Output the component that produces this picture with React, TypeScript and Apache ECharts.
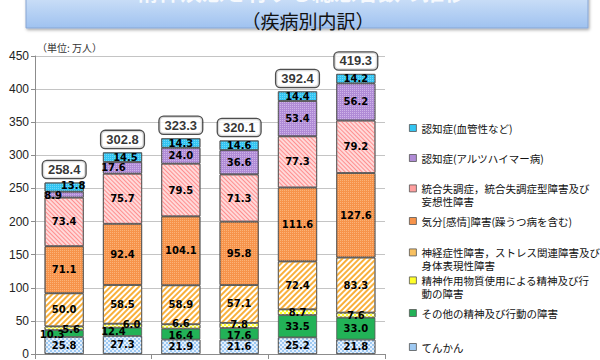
import React, { useEffect, useRef } from "react";
import * as echarts from "echarts";

// ---- data ----
const categories = ["平成11年", "平成14年", "平成17年", "平成20年", "平成23年", "平成26年"];
const totals = [258.4, 302.8, 323.3, 320.1, 392.4, 419.3];
const epilepsy = [25.8, 27.3, 21.9, 21.6, 25.2, 21.8];
const otherDisorders = [10.3, 12.4, 16.4, 17.6, 33.5, 33.0];
const substance = [5.6, 6.0, 6.6, 7.8, 8.7, 7.6];
const neurotic = [50.0, 58.5, 58.9, 57.1, 72.4, 83.3];
const mood = [71.1, 92.4, 104.1, 95.8, 111.6, 127.6];
const schizophrenia = [73.4, 75.7, 79.5, 71.3, 77.3, 79.2];
const alzheimer = [8.9, 17.6, 24.0, 36.6, 53.4, 56.2];
const vascular = [13.8, 14.5, 14.3, 14.6, 14.4, 14.2];

const seriesNames = [
  "てんかん",
  "その他の精神及び行動の障害",
  "精神作用物質使用による精神及び行動の障害",
  "神経症性障害，ストレス関連障害及び身体表現性障害",
  "気分[感情]障害(躁うつ病を含む)",
  "統合失調症，統合失調症型障害及び妄想性障害",
  "認知症(アルツハイマー病)",
  "認知症(血管性など)",
];
const legendTexts = [
  "てんかん",
  "その他の精神及び行動の障害",
  "精神作用物質使用による精神及び行\n動の障害",
  "神経症性障害，ストレス関連障害及び\n身体表現性障害",
  "気分[感情]障害(躁うつ病を含む)",
  "統合失調症，統合失調症型障害及び\n妄想性障害",
  "認知症(アルツハイマー病)",
  "認知症(血管性など)",
];
const seriesValues = [epilepsy, otherDisorders, substance, neurotic, mood, schizophrenia, alzheimer, vascular];

const yMin = 0;
const yMax = 450;
const yInterval = 50;
const unitLabel = "（単位: 万人）";
const titleText = "精神疾患を有する総患者数の推移";
const subtitleText = "（疾病別内訳）";

// ---- styles ----
const dots = (c: string) => ({ color: c, symbol: "rect", symbolSize: 1, dashArrayX: [1, 1], dashArrayY: [1, 1] });
const checker = (c: string) => ({ color: c, symbol: "rect", symbolSize: 1, dashArrayX: [[2, 2], [0, 2, 2, 0]], dashArrayY: [2, 0] });
const seriesStyles: any[] = [
  { color: "#9ec9f2", decal: checker("rgba(255,255,255,0.75)") },
  { color: "#22b257" },
  { color: "#ffff2a", decal: checker("rgba(255,255,255,0.8)") },
  { color: "#ffffff", decal: { color: "#f8b03c", symbol: "rect", symbolSize: 1, dashArrayX: [1, 0], dashArrayY: [2, 2], rotation: -Math.PI / 4 } },
  { color: "#f7934a", decal: dots("rgba(255,205,160,0.55)") },
  { color: "#ffd9d9", decal: { color: "#ff8f8f", symbol: "rect", symbolSize: 1, dashArrayX: [1, 0], dashArrayY: [1, 1.2], rotation: Math.PI / 4 } },
  { color: "#b08bd6", decal: dots("rgba(230,215,245,0.55)") },
  { color: "#33c5f2", decal: dots("rgba(170,235,255,0.5)") },
];
const legendSolid = ["#9ec9f2", "#22b257", "#ffff2a", "#f8c060", "#f7934a", "#ff9f9f", "#b08bd6", "#33c5f2"];
// first-line centre y of each legend entry (bottom-to-top series order)
const legendCenters = [347, 313, 280, 252, 221, 188, 158, 128];
const legendLineHeight = 13.5;
const labelOffsets: Record<number, Record<number, number[]>> = {
  1: { 0: [-12, 1], 1: [-9, 0], 2: [0, 1.5], 3: [0, 1.5] },
  2: { 0: [7, 1.5], 1: [9, -1.5], 2: [0, -2.5], 3: [0, -0.5] },
  6: { 0: [-11, 1], 1: [-9, 0] },
  7: { 0: [9, -1.5], 1: [3, 0] },
};

export default function App() {
  const ref = useRef<HTMLDivElement>(null);
  useEffect(() => {
    if (!ref.current) return;
    const chart = echarts.init(ref.current, undefined, { renderer: "svg" });
    const sums = categories.map((_, i) => seriesValues.reduce((a, s) => a + s[i], 0));

    const barSeries = seriesValues.map((vals, si) => ({
      name: seriesNames[si],
      type: "bar",
      stack: "total",
      barCategoryGap: "33%",
      itemStyle: { ...seriesStyles[si], borderColor: "#555", borderWidth: 0.8 },
      label: {
        show: true,
        position: "inside",
        color: "#000",
        fontWeight: "bold",
        fontSize: 10,
        fontFamily: "DejaVu Sans",
        formatter: (p: any) => Number(p.value).toFixed(1),
      },
      data: vals.map((v, i) => {
        const off = labelOffsets[si] && labelOffsets[si][i];
        return off ? { value: v, label: { offset: off } } : v;
      }),
    }));

    const legends = seriesNames.map((name, si) => {
      const lines = legendTexts[si].split("\n").length;
      const c = legendCenters[si];
      const blockH = lines * legendLineHeight;
      const iconH = lines > 1 ? blockH : 7;
      const y0 = legendLineHeight / 2 - 3.5;
      const icon =
        lines > 1
          ? `path://M0,0 M0,${blockH} M0,${y0} L7,${y0} L7,${y0 + 7} L0,${y0 + 7} Z`
          : "rect";
      return {
        data: [{ name, itemStyle: { color: legendSolid[si], decal: "none" } }],
        left: 409,
        top: c - legendLineHeight / 2,
        padding: 0,
        icon,
        itemWidth: 7,
        itemHeight: iconH,
        itemStyle: { borderColor: "#555", borderWidth: 0.8 },
        selectedMode: false,
        formatter: () => legendTexts[si],
        textStyle: {
          fontSize: 10.5,
          lineHeight: legendLineHeight,
          color: "#111",
          fontFamily: "Noto Sans CJK JP",
        },
      };
    });

    chart.setOption({
      animation: false,
      backgroundColor: "#ffffff",
      grid: { left: 35, right: 215, top: 56, bottom: 3, containLabel: false },
      legend: legends,
      xAxis: {
        type: "category",
        data: categories,
        axisLine: { lineStyle: { color: "#8c8c8c" } },
        axisTick: { show: true, length: 5, lineStyle: { color: "#8c8c8c" } },
        axisLabel: { show: false },
      },
      yAxis: {
        type: "value",
        min: yMin,
        max: yMax,
        interval: yInterval,
        axisLine: { show: true, lineStyle: { color: "#8c8c8c" } },
        axisTick: { show: true, length: 4, lineStyle: { color: "#8c8c8c" } },
        splitLine: { lineStyle: { color: "#c4c4c4" } },
        axisLabel: { fontSize: 12, color: "#222", margin: 6, fontFamily: "Liberation Sans" },
      },
      series: [
        ...barSeries,
        {
          name: "合計",
          type: "scatter",
          symbolSize: 1,
          itemStyle: { color: "rgba(0,0,0,0)" },
          silent: true,
          label: {
            show: true,
            position: "top",
            distance: 4,
            formatter: (p: any) => totals[p.dataIndex].toFixed(1),
            fontSize: 13,
            fontWeight: "bold",
            fontFamily: "Liberation Sans",
            color: "#000",
            backgroundColor: "#fff",
            borderColor: "#222",
            borderWidth: 1.3,
            borderRadius: 4,
            padding: [2, 5, 2, 5],
          },
          data: sums,
        },
      ],
      graphic: [
        {
          type: "rect",
          shape: { x: 26, y: -6, width: 562, height: 34 },
          style: {
            fill: {
              type: "linear", x: 0, y: 0, x2: 0, y2: 1,
              colorStops: [
                { offset: 0, color: "#d0e2f8" },
                { offset: 1, color: "#9fc2f0" },
              ],
            },
            stroke: "#87a6d4",
            lineWidth: 1,
            shadowBlur: 3,
            shadowOffsetX: 1,
            shadowOffsetY: 1.5,
            shadowColor: "rgba(0,0,0,0.35)",
          },
        },
        {
          type: "text",
          x: 301,
          y: 1,
          style: {
            text: titleText,
            fill: "rgba(255,255,255,0.85)",
            font: 'bold 22px "Noto Sans CJK JP"',
            align: "center",
            verticalAlign: "bottom",
            textAlign: "center",
            textVerticalAlign: "bottom",
          },
        },
        {
          type: "text",
          x: 308,
          y: 20,
          style: {
            text: subtitleText,
            fill: "#111",
            font: '19px "Noto Sans CJK JP"',
            align: "center",
            verticalAlign: "middle",
            textAlign: "center",
            textVerticalAlign: "middle",
          },
        },
        {
          type: "text",
          x: 37,
          y: 47,
          style: {
            text: unitLabel,
            fill: "#333",
            font: '10px "Noto Sans CJK JP"',
            align: "left",
            verticalAlign: "middle",
            textAlign: "left",
            textVerticalAlign: "middle",
          },
        },
      ],
    });
    return () => chart.dispose();
  }, []);
  return (
    <div
      ref={ref}
      style={{ position: "fixed", left: 0, top: 0, width: 600, height: 360, background: "#fff" }}
    />
  );
}
